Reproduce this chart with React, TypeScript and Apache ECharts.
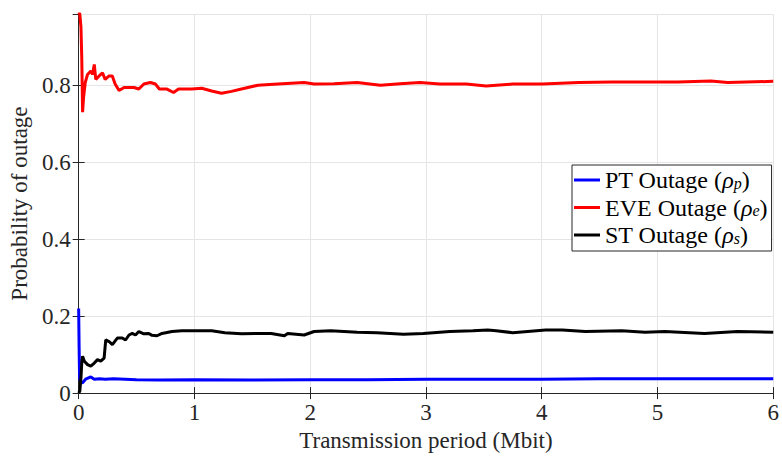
import React, { useEffect, useRef } from "react";
import * as echarts from "echarts";

const xTicks = [0, 1, 2, 3, 4, 5, 6];
const yTicks = [0, 0.2, 0.4, 0.6, 0.8];

const ptX = [0, 0.004, 0.008, 0.02, 0.034, 0.06, 0.105, 0.135, 0.18, 0.23, 0.3, 0.5, 0.7, 1, 1.5, 2, 2.5, 3, 3.5, 4, 4.5, 5, 5.5, 6];
const ptY = [0.22, 0.12, 0.04, 0.028, 0.027, 0.036, 0.042, 0.036, 0.037, 0.036, 0.037, 0.035, 0.034, 0.035, 0.034, 0.035, 0.035, 0.036, 0.036, 0.036, 0.037, 0.037, 0.037, 0.037];

const eveX = [0, 0.01, 0.02, 0.027, 0.034, 0.043, 0.057, 0.077, 0.105, 0.12, 0.135, 0.148, 0.177, 0.206, 0.229, 0.263, 0.291, 0.315, 0.349, 0.392, 0.435, 0.477, 0.52, 0.563, 0.62, 0.663, 0.697, 0.763, 0.82, 0.863, 0.92, 0.977, 1.063, 1.149, 1.234, 1.32, 1.406, 1.549, 1.72, 1.948, 2.034, 2.205, 2.406, 2.606, 2.777, 2.948, 3.12, 3.349, 3.52, 3.749, 4.005, 4.32, 4.605, 4.892, 5.177, 5.462, 5.606, 6.0];
const eveY = [0.99, 0.985, 0.95, 0.87, 0.73, 0.77, 0.807, 0.828, 0.837, 0.828, 0.854, 0.815, 0.824, 0.832, 0.815, 0.824, 0.824, 0.803, 0.786, 0.794, 0.794, 0.794, 0.79, 0.803, 0.807, 0.803, 0.79, 0.79, 0.781, 0.79, 0.79, 0.79, 0.792, 0.785, 0.779, 0.784, 0.79, 0.8, 0.803, 0.807, 0.803, 0.804, 0.807, 0.8, 0.804, 0.807, 0.803, 0.803, 0.798, 0.803, 0.803, 0.807, 0.808, 0.808, 0.808, 0.811, 0.807, 0.81];

const stX = [0, 0.01, 0.02, 0.027, 0.034, 0.049, 0.077, 0.105, 0.135, 0.163, 0.191, 0.22, 0.234, 0.263, 0.291, 0.334, 0.377, 0.405, 0.435, 0.463, 0.491, 0.52, 0.563, 0.606, 0.634, 0.677, 0.72, 0.806, 0.891, 0.977, 1.035, 1.149, 1.263, 1.406, 1.549, 1.663, 1.777, 1.806, 1.948, 2.034, 2.177, 2.406, 2.577, 2.806, 2.977, 3.206, 3.405, 3.534, 3.606, 3.749, 4.034, 4.177, 4.377, 4.692, 4.892, 5.063, 5.406, 5.691, 6.0];
const stY = [0, 0.005, 0.04, 0.08, 0.096, 0.083, 0.074, 0.07, 0.078, 0.087, 0.083, 0.091, 0.138, 0.134, 0.126, 0.143, 0.143, 0.138, 0.151, 0.155, 0.151, 0.16, 0.154, 0.155, 0.15, 0.149, 0.155, 0.16, 0.162, 0.162, 0.162, 0.162, 0.157, 0.154, 0.155, 0.155, 0.149, 0.155, 0.151, 0.16, 0.162, 0.158, 0.157, 0.153, 0.155, 0.16, 0.162, 0.164, 0.162, 0.157, 0.164, 0.164, 0.16, 0.162, 0.158, 0.16, 0.155, 0.16, 0.158];

const seriesNames = ["PT Outage (ρp)", "EVE Outage (ρe)", "ST Outage (ρs)"];
const legendRich: Record<string, string> = {
  "PT Outage (ρp)": "PT Outage ({it|ρ}{sub|p})",
  "EVE Outage (ρe)": "EVE Outage ({it|ρ}{sub|e})",
  "ST Outage (ρs)": "ST Outage ({it|ρ}{sub|s})",
};

const FONT = "Liberation Serif";
const TXT = "#262626";

function zip(xs: number[], ys: number[]) {
  return xs.map((x, i) => [x, ys[i]]);
}

export default function App() {
  const ref = useRef<HTMLDivElement>(null);
  useEffect(() => {
    if (!ref.current) return;
    const chart = echarts.init(ref.current, null, { renderer: "svg" });
    const line = { show: true, lineStyle: { color: TXT, width: 1 } };
    const tick = { show: true, inside: true, length: 6, lineStyle: { color: TXT } };
    chart.setOption({
      animation: false,
      backgroundColor: "#ffffff",
      grid: { left: 76, right: 6, top: 14, bottom: 59, containLabel: false },
      legend: {
        orient: "vertical",
        left: 572,
        top: 165,
        padding: [3, 4, 4, 2],
        itemGap: 3.5,
        itemWidth: 26,
        itemHeight: 3,
        icon: "rect",
        backgroundColor: "#ffffff",
        borderColor: TXT,
        borderWidth: 1,
        borderRadius: 0,
        data: seriesNames,
        formatter: (name: string) => legendRich[name],
        textStyle: {
          fontFamily: FONT,
          fontSize: 24,
          color: "#000",
          lineHeight: 22,
          rich: {
            it: { fontFamily: FONT, fontSize: 24, lineHeight: 22, fontStyle: "italic", color: "#000" },
            sub: { fontFamily: FONT, fontSize: 16, lineHeight: 13, verticalAlign: "bottom", fontStyle: "italic", color: "#000" },
          },
        },
      },
      xAxis: [
        {
          type: "value",
          min: 0,
          max: 6,
          interval: 1,
          name: "Transmission period (Mbit)",
          nameLocation: "middle",
          nameGap: 31,
          nameTextStyle: { fontFamily: FONT, fontSize: 23, color: TXT },
          axisLine: line,
          axisTick: tick,
          axisLabel: { fontFamily: FONT, fontSize: 23, color: TXT, margin: 8 },
          splitLine: { show: true, lineStyle: { color: "#e5e5e5", width: 1 } },
        },
        {
          type: "value",
          position: "top",
          min: 0,
          max: 6,
          interval: 1,
          axisLine: line,
          axisTick: tick,
          axisLabel: { show: false },
          splitLine: { show: false },
        },
      ],
      yAxis: [
        {
          type: "value",
          min: 0,
          max: 0.985,
          interval: 0.2,
          name: "Probability of outage",
          nameLocation: "middle",
          nameGap: 40,
          nameTextStyle: { fontFamily: FONT, fontSize: 23, color: TXT },
          axisLine: line,
          axisTick: tick,
          axisLabel: {
            fontFamily: FONT,
            fontSize: 23,
            color: TXT,
            margin: 8,
            showMaxLabel: false,
            formatter: (v: number) => (yTicks.some((t) => Math.abs(t - v) < 1e-6) ? (v === 0 ? "0" : v.toFixed(1)) : ""),
          },
          splitLine: { show: true, lineStyle: { color: "#e5e5e5", width: 1 } },
        },
        {
          type: "value",
          position: "right",
          min: 0,
          max: 0.985,
          interval: 0.2,
          axisLine: line,
          axisTick: tick,
          axisLabel: { show: false },
          splitLine: { show: false },
        },
      ],
      series: [
        {
          name: seriesNames[0],
          type: "line",
          data: zip(ptX, ptY),
          showSymbol: false,
          symbol: "none",
          lineStyle: { color: "#0000ff", width: 3 },
          itemStyle: { color: "#0000ff" },
        },
        {
          name: seriesNames[1],
          type: "line",
          data: zip(eveX, eveY),
          showSymbol: false,
          symbol: "none",
          lineStyle: { color: "#ff0000", width: 3 },
          itemStyle: { color: "#ff0000" },
        },
        {
          name: seriesNames[2],
          type: "line",
          data: zip(stX, stY),
          showSymbol: false,
          symbol: "none",
          lineStyle: { color: "#000000", width: 3 },
          itemStyle: { color: "#000000" },
        },
      ],
    });
    return () => chart.dispose();
  }, []);
  return (
    <div
      ref={ref}
      style={{ position: "fixed", left: 0, top: 0, width: 782, height: 457, background: "#fff" }}
    />
  );
}
